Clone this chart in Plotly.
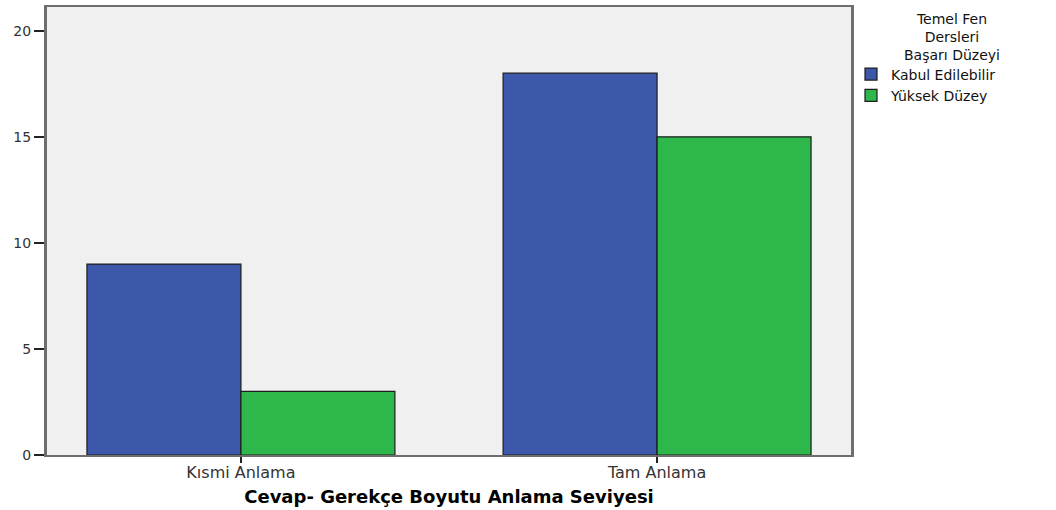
import plotly.graph_objects as go

categories = ["Kısmi Anlama", "Tam Anlama"]
series_names = ["Kabul Edilebilir", "Yüksek Düzey"]
kabul = [9, 18]
yuksek = [3, 15]
y_ticks = [0, 5, 10, 15, 20]
colors = ["#3d58ab", "#2eb74b"]
legend_title = "Temel Fen<br>Dersleri<br>Başarı Düzeyi"
x_title = "Cevap- Gerekçe Boyutu Anlama Seviyesi"

fig = go.Figure()
for name, vals, col in zip(series_names, [kabul, yuksek], colors):
    fig.add_trace(go.Bar(
        x=categories, y=vals, name=name,
        marker=dict(color=col, line=dict(color="#1c1c1c", width=1.2)),
    ))

fig.update_layout(
    width=1056, height=510,
    margin=dict(l=47, r=205, t=5, b=55),
    paper_bgcolor="white",
    plot_bgcolor="#f0f0f0",
    barmode="group",
    bargap=0.26,
    bargroupgap=0,
    font=dict(family="DejaVu Sans", color="#222222"),
    legend=dict(
        x=1.0, xanchor="left", y=0.885, yanchor="top",
        bgcolor="rgba(0,0,0,0)",
        font=dict(size=14, family="DejaVu Sans", color="#111111"),
        itemwidth=30, tracegroupgap=0,
    ),
    showlegend=True,
)
fig.add_annotation(
    text=legend_title, xref="paper", yref="paper",
    x=(952 - 47) / 804, y=1.0 - 2 / 450, xanchor="center", yanchor="top",
    align="center", showarrow=False,
    font=dict(size=14, family="DejaVu Sans", color="#111111"),
)
fig.update_xaxes(
    range=[-0.466, 1.466],
    showgrid=False,
    showline=True, linecolor="#6e6e6e", linewidth=2, mirror=True,
    ticks="outside", ticklen=6, tickcolor="#222222", tickwidth=1.5,
    ticklabelstandoff=-4,
    tickfont=dict(size=16, family="DejaVu Sans", color="#333333"),
    title=dict(text="<b>" + x_title + "</b>",
               font=dict(size=18, family="DejaVu Sans", color="#000000"), standoff=9),
)
fig.update_yaxes(
    range=[0, 21.12],
    tickvals=y_ticks,
    showgrid=False, zeroline=False,
    showline=True, linecolor="#6e6e6e", linewidth=3, mirror=True,
    ticks="outside", ticklen=10, tickcolor="#222222", tickwidth=1.5,
    tickfont=dict(size=14, family="DejaVu Sans", color="#333333"),
)

fig.write_html("out.html", config={"displayModeBar": False},
               post_script="document.body.style.margin='0';")
